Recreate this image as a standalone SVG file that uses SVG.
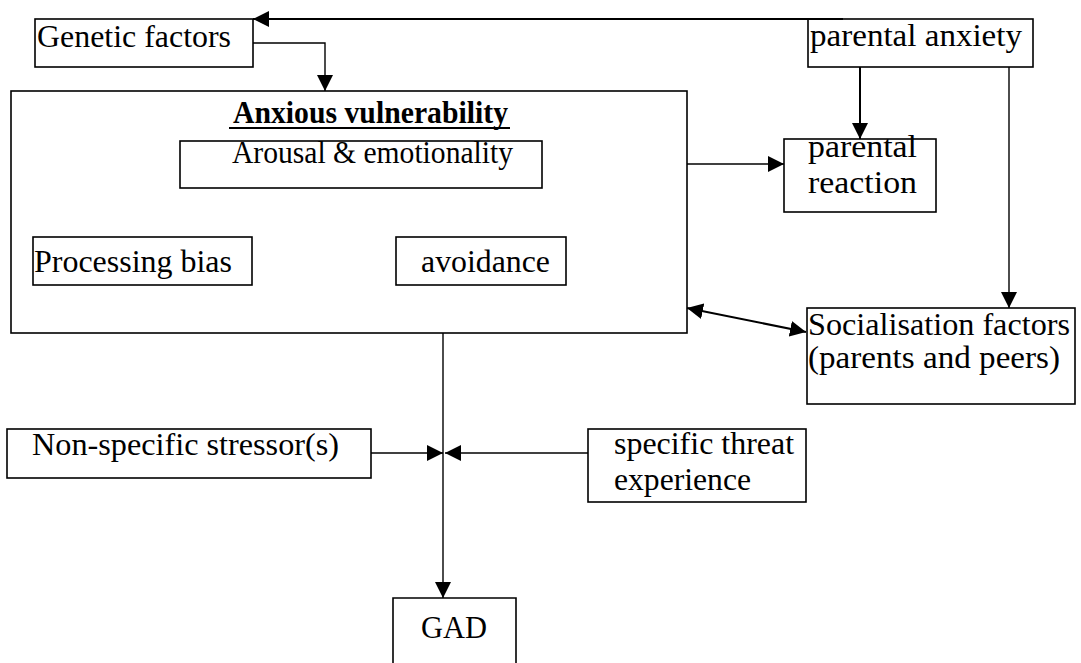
<svg xmlns="http://www.w3.org/2000/svg" width="1081" height="663" viewBox="0 0 1081 663">
<style>
.box{fill:#fff;stroke:#000;stroke-width:1.6}
.t{font-family:"Liberation Serif","Times New Roman",serif;font-size:32px;fill:#000}
.b{font-weight:bold}
.c{fill:none;stroke:#000;stroke-width:1.4}
.ct{fill:none;stroke:#000;stroke-width:2}
</style>
<defs>
<marker id="ah" markerUnits="userSpaceOnUse" markerWidth="17" markerHeight="17" refX="16" refY="8" orient="auto-start-reverse" viewBox="0 0 17 17">
<path d="M0,0 L16,8 L0,16 z" fill="#000"/>
</marker>
</defs>
<rect width="1081" height="663" fill="#fff"/>
<g id="anxious-vulnerability">
<rect class="box" x="11" y="91" width="676" height="242"/>
<text class="t b" x="233" y="123" textLength="275" lengthAdjust="spacingAndGlyphs">Anxious vulnerability</text>
<line x1="229" y1="128" x2="510" y2="128" stroke="#000" stroke-width="2"/>
</g>
<g id="arousal">
<rect class="box" x="180" y="141" width="362" height="47"/>
<text class="t" x="232" y="163" textLength="281" lengthAdjust="spacingAndGlyphs">Arousal &amp; emotionality</text>
</g>
<g id="processing-bias">
<rect class="box" x="33" y="237" width="219" height="48"/>
<text class="t" x="34" y="272" textLength="198" lengthAdjust="spacingAndGlyphs">Processing bias</text>
</g>
<g id="avoidance">
<rect class="box" x="396" y="237" width="170" height="48"/>
<text class="t" x="421" y="272" textLength="129" lengthAdjust="spacingAndGlyphs">avoidance</text>
</g>
<g id="genetic-factors">
<rect class="box" x="35" y="19" width="218" height="48"/>
<text class="t" x="37" y="47" textLength="194" lengthAdjust="spacingAndGlyphs">Genetic factors</text>
</g>
<g id="parental-anxiety">
<rect class="box" x="808" y="19" width="225" height="48"/>
<text class="t" x="810" y="46" textLength="212" lengthAdjust="spacingAndGlyphs">parental anxiety</text>
</g>
<g id="parental-reaction">
<rect class="box" x="784" y="139" width="152" height="73"/>
<text class="t" x="808" y="157" textLength="109" lengthAdjust="spacingAndGlyphs">parental</text>
<text class="t" x="808" y="193" textLength="109" lengthAdjust="spacingAndGlyphs">reaction</text>
</g>
<g id="socialisation-factors">
<rect class="box" x="807" y="308" width="268" height="96"/>
<text class="t" x="808" y="335" textLength="262" lengthAdjust="spacingAndGlyphs">Socialisation factors</text>
<text class="t" x="808" y="368" textLength="252" lengthAdjust="spacingAndGlyphs">(parents and peers)</text>
</g>
<g id="non-specific-stressors">
<rect class="box" x="7" y="429" width="364" height="49"/>
<text class="t" x="32" y="455" textLength="307" lengthAdjust="spacingAndGlyphs">Non-specific stressor(s)</text>
</g>
<g id="specific-threat">
<rect class="box" x="588" y="429" width="218" height="73"/>
<text class="t" x="614" y="454" textLength="180" lengthAdjust="spacingAndGlyphs">specific threat</text>
<text class="t" x="614" y="490" textLength="137" lengthAdjust="spacingAndGlyphs">experience</text>
</g>
<g id="gad">
<path class="box" d="M393,670 L393,598 L516,598 L516,670"/>
<text class="t" x="421" y="638" textLength="66" lengthAdjust="spacingAndGlyphs">GAD</text>
</g>
<g id="connectors">
<line class="ct" x1="843" y1="19" x2="253" y2="19" marker-end="url(#ah)"/>
<polyline class="c" points="253,43 325,43 325,91" marker-end="url(#ah)"/>
<line class="ct" x1="860" y1="67" x2="860" y2="139" marker-end="url(#ah)"/>
<line class="c" x1="1009" y1="67" x2="1009" y2="308" marker-end="url(#ah)"/>
<line class="c" x1="687" y1="164" x2="784" y2="164" marker-end="url(#ah)"/>
<line class="ct" x1="687" y1="308" x2="806" y2="332" marker-start="url(#ah)" marker-end="url(#ah)"/>
<line class="c" x1="443" y1="333" x2="443" y2="598" marker-end="url(#ah)"/>
<line class="c" x1="371" y1="453" x2="443" y2="453" marker-end="url(#ah)"/>
<line class="c" x1="588" y1="453" x2="445" y2="453" marker-end="url(#ah)"/>
</g>
</svg>
